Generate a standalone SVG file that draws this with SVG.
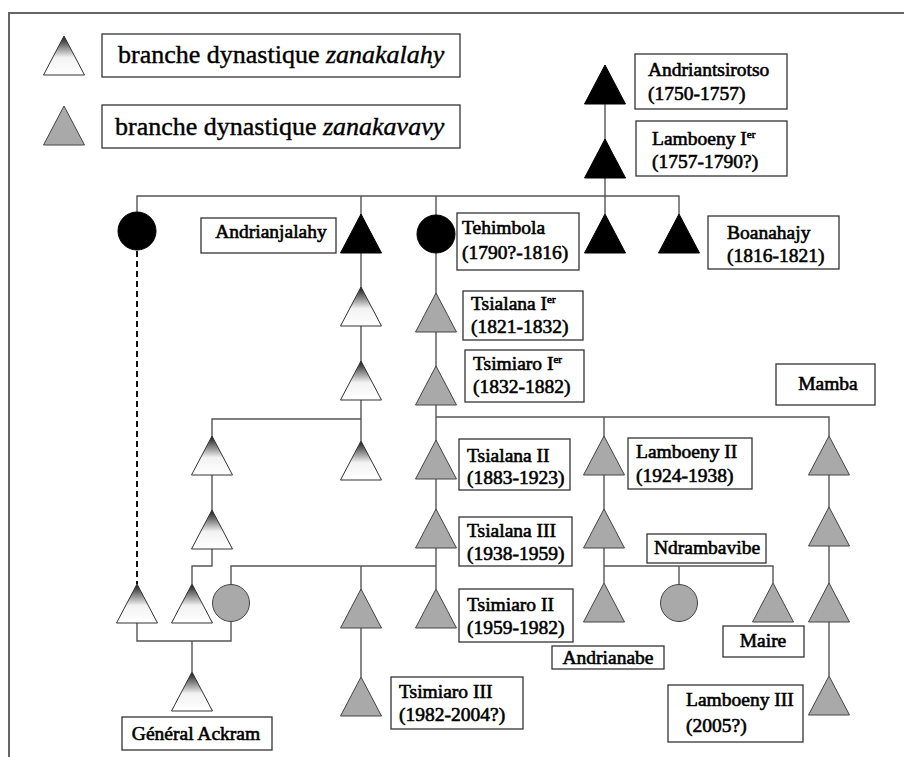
<svg xmlns="http://www.w3.org/2000/svg" xmlns:xlink="http://www.w3.org/1999/xlink" width="904" height="757" viewBox="0 0 904 757">
<style>
.ln{fill:none;stroke:#555;stroke-width:1.4}
.dash{fill:none;stroke:#111;stroke-width:2;stroke-dasharray:6 4}
.frame{fill:none;stroke:#666;stroke-width:2}
.box{fill:#fff;stroke:#333;stroke-width:1.3}
.tw{fill:url(#gw);stroke:#333;stroke-width:1}
.tg{fill:#a9a9a9;stroke:#444;stroke-width:1}
.tb{fill:#000;stroke:#000;stroke-width:1}
.t{font-family:"Liberation Serif","Times New Roman",serif;font-size:19.5px;fill:#000;stroke:#000;stroke-width:0.6}
.c{text-anchor:middle}
.lg{font-family:"Liberation Serif","Times New Roman",serif;font-size:26px;fill:#000;stroke:#000;stroke-width:0.4}
.sup{font-size:11px}
</style>
<defs>
<linearGradient id="gw" x1="0" y1="0" x2="0" y2="1">
<stop offset="0" stop-color="#151515"/>
<stop offset="0.55" stop-color="#f2f2f2"/>
<stop offset="1" stop-color="#ffffff"/>
</linearGradient>
<path id="tri" d="M0,0 L20.5,39 L-20.5,39 Z"/>
</defs>
<rect x="0" y="0" width="904" height="757" fill="#fff"/>
<path class="frame" d="M9,757 V13 H904"/>

<g id="legend">
<use href="#tri" x="64" y="36" class="tw"/>
<rect class="box" x="102" y="34" width="358" height="43"/>
<text class="lg" x="118" y="63">branche dynastique <tspan font-style="italic">zanakalahy</tspan></text>
<use href="#tri" x="64" y="106" class="tg"/>
<rect class="box" x="102" y="105" width="358" height="43"/>
<text class="lg" x="115" y="135">branche dynastique <tspan font-style="italic">zanakavavy</tspan></text>
</g>

<g id="connectors">
<path class="ln" d="M605,100 V214"/>
<path class="ln" d="M137,212 V196 H679 V214"/>
<path class="ln" d="M361,196 V441"/>
<path class="ln" d="M436,196 V589"/>
<path class="dash" d="M137,251 V584"/>
<path class="ln" d="M361,419 H212 V566 H192 V584"/>
<path class="ln" d="M436,417 H829 V676"/>
<path class="ln" d="M604,417 V583"/>
<path class="ln" d="M231,585 V566 H436"/>
<path class="ln" d="M361,566 V677"/>
<path class="ln" d="M137,623 V641 H231 V621"/>
<path class="ln" d="M192,641 V672"/>
<path class="ln" d="M604,566 H773 V583"/>
<path class="ln" d="M679,566 V585"/>
</g>

<g id="n-andriantsirotso">
<use href="#tri" x="605" y="65" class="tb"/>
<rect class="box" x="635" y="54" width="152" height="55"/>
<text class="t" x="648" y="76">Andriantsirotso</text>
<text class="t" x="648" y="100">(1750-1757)</text>
</g>
<g id="n-lamboeny1">
<use href="#tri" x="605" y="139" class="tb"/>
<rect class="box" x="636" y="121" width="151" height="55"/>
<text class="t" x="652" y="145">Lamboeny I<tspan class="sup" dy="-7">er</tspan></text>
<text class="t" x="652" y="168">(1757-1790?)</text>
</g>
<g id="n-black-circle">
<circle cx="137" cy="231" r="19" class="tb"/>
</g>
<g id="n-andrianjalahy">
<use href="#tri" x="361" y="214" class="tb"/>
<rect class="box" x="201" y="218" width="135" height="35"/>
<text class="t c" x="271" y="238">Andrianjalahy</text>
</g>
<g id="n-tehimbola">
<circle cx="436" cy="234" r="19" class="tb"/>
<rect class="box" x="457" y="213" width="122" height="57"/>
<text class="t" x="462" y="234">Tehimbola</text>
<text class="t" x="462" y="259">(1790?-1816)</text>
</g>
<g id="n-black-3">
<use href="#tri" x="605" y="214" class="tb"/>
</g>
<g id="n-boanahajy">
<use href="#tri" x="679" y="214" class="tb"/>
<rect class="box" x="708" y="216" width="131" height="53"/>
<text class="t" x="727" y="239">Boanahajy</text>
<text class="t" x="727" y="262">(1816-1821)</text>
</g>

<g id="n-w1"><use href="#tri" x="361" y="287" class="tw"/></g>
<g id="n-w2"><use href="#tri" x="361" y="361" class="tw"/></g>
<g id="n-w3"><use href="#tri" x="361" y="441" class="tw"/></g>
<g id="n-w4"><use href="#tri" x="212" y="436" class="tw"/></g>
<g id="n-w5"><use href="#tri" x="212" y="510" class="tw"/></g>
<g id="n-w6"><use href="#tri" x="137" y="584" class="tw"/></g>
<g id="n-w7"><use href="#tri" x="192" y="584" class="tw"/></g>
<g id="n-general-ackram">
<use href="#tri" x="192" y="672" class="tw"/>
<rect class="box" x="122" y="717" width="150" height="33"/>
<text class="t c" x="196" y="740">Général Ackram</text>
</g>
<g id="n-gray-circle-left"><circle cx="231" cy="603" r="18.5" class="tg"/></g>

<g id="n-tsialana1">
<use href="#tri" x="436" y="293" class="tg"/>
<rect class="box" x="463" y="291" width="120" height="49"/>
<text class="t" x="471" y="310">Tsialana I<tspan class="sup" dy="-7">er</tspan></text>
<text class="t" x="471" y="333">(1821-1832)</text>
</g>
<g id="n-tsimiaro1">
<use href="#tri" x="436" y="366" class="tg"/>
<rect class="box" x="465" y="350" width="119" height="52"/>
<text class="t" x="473" y="370">Tsimiaro I<tspan class="sup" dy="-7">er</tspan></text>
<text class="t" x="473" y="393">(1832-1882)</text>
</g>
<g id="n-tsialana2">
<use href="#tri" x="436" y="440" class="tg"/>
<rect class="box" x="459" y="439" width="111" height="51"/>
<text class="t" x="467" y="462">Tsialana II</text>
<text class="t" x="467" y="484">(1883-1923)</text>
</g>
<g id="n-tsialana3">
<use href="#tri" x="436" y="509" class="tg"/>
<rect class="box" x="459" y="517" width="113" height="49"/>
<text class="t" x="467" y="537">Tsialana III</text>
<text class="t" x="467" y="560">(1938-1959)</text>
</g>
<g id="n-tsimiaro2">
<use href="#tri" x="436" y="589" class="tg"/>
<rect class="box" x="459" y="589" width="114" height="53"/>
<text class="t" x="467" y="611">Tsimiaro II</text>
<text class="t" x="467" y="634">(1959-1982)</text>
</g>
<g id="n-g361"><use href="#tri" x="361" y="589" class="tg"/></g>
<g id="n-tsimiaro3">
<use href="#tri" x="361" y="677" class="tg"/>
<rect class="box" x="391" y="677" width="132" height="52"/>
<text class="t" x="399" y="698">Tsimiaro III</text>
<text class="t" x="399" y="721">(1982-2004?)</text>
</g>
<g id="n-lamboeny2">
<use href="#tri" x="604" y="436" class="tg"/>
<rect class="box" x="628" y="438" width="124" height="51"/>
<text class="t" x="636" y="458">Lamboeny II</text>
<text class="t" x="636" y="482">(1924-1938)</text>
</g>
<g id="n-g604b"><use href="#tri" x="604" y="509" class="tg"/></g>
<g id="n-andrianabe">
<use href="#tri" x="604" y="583" class="tg"/>
<rect class="box" x="552" y="646" width="112" height="23"/>
<text class="t c" x="608" y="664">Andrianabe</text>
</g>
<g id="n-ndrambavibe">
<circle cx="679" cy="603" r="18.5" class="tg"/>
<rect class="box" x="647" y="534" width="119" height="29"/>
<text class="t c" x="707" y="554">Ndrambavibe</text>
</g>
<g id="n-maire">
<use href="#tri" x="773" y="583" class="tg"/>
<rect class="box" x="723" y="626" width="81" height="31"/>
<text class="t c" x="763" y="647">Maire</text>
</g>
<g id="n-mamba">
<use href="#tri" x="829" y="436" class="tg"/>
<rect class="box" x="776" y="364" width="99" height="41"/>
<text class="t c" x="828" y="390">Mamba</text>
</g>
<g id="n-m2"><use href="#tri" x="829" y="507" class="tg"/></g>
<g id="n-m3"><use href="#tri" x="829" y="583" class="tg"/></g>
<g id="n-lamboeny3">
<use href="#tri" x="829" y="676" class="tg"/>
<rect class="box" x="668" y="685" width="135" height="57"/>
<text class="t" x="686" y="706">Lamboeny III</text>
<text class="t" x="686" y="732">(2005?)</text>
</g>
</svg>
